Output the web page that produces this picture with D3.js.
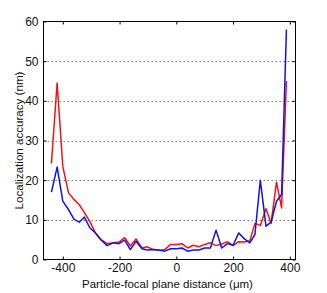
<!DOCTYPE html>
<html>
<head>
<meta charset="utf-8">
<script src="https://cdn.jsdelivr.net/npm/d3@7"></script>
<style>
html,body{margin:0;padding:0;background:#fff;}
svg{display:block;}
text{font-family:"Liberation Sans",Arial,sans-serif;fill:#111;}
</style>
</head>
<body>
<svg id="chart" width="327" height="293"></svg>
<script>
const distance = [-440,-420,-400,-380,-360,-342,-324,-305,-285,-265,-244,-222,-202,-182,-162,-142,-121,-102,-81,-61,-41,-20,0,20,40,60,80,100,120,140,160,180,200,220,240,259,277,296,316,334,353,371,388];
const redSeries = [24.2,44.5,23.5,16.8,15.1,13.8,11.8,9.6,6.7,5.0,4.0,4.2,4.4,5.5,3.4,5.2,2.9,3.2,2.5,2.3,2.5,3.8,3.8,4.0,2.9,3.6,3.2,3.8,4.2,3.5,3.9,4.5,3.5,4.5,4.4,4.7,9.1,8.6,12.8,9.1,19.5,13.0,45];
const blueSeries = [17.0,23.3,14.7,12.6,10.1,9.4,10.7,8.0,6.7,4.9,3.5,4.2,4.0,4.9,2.5,4.6,2.7,2.4,2.5,2.4,2.1,2.7,2.7,2.9,2.1,2.4,2.4,2.9,2.9,7.4,2.9,4.0,3.6,6.7,5.2,4.2,6.3,20,8.4,9.4,14.7,16.4,58];
const xTicks = [-400,-200,0,200,400];
const yTicks = [0,10,20,30,40,50,60];
const gridValues = [10,20,30,40,50];
const xLabel = "Particle-focal plane distance (\u03bcm)";
const yLabel = "Localization accuracy (nm)";

const svg = d3.select("#chart");
const L = 43.5, R = 295.5, T = 21.5, B = 259.5;
const x = d3.scaleLinear().domain([-468, 420]).range([L, R]);
const y = d3.scaleLinear().domain([0, 60]).range([B, T]);

// grid
svg.append("g").selectAll("line").data(gridValues).enter().append("line")
  .attr("x1", L).attr("x2", R)
  .attr("y1", d => Math.round(y(d)) + 0.5).attr("y2", d => Math.round(y(d)) + 0.5)
  .attr("stroke", "#777").attr("stroke-width", 1).attr("stroke-dasharray", "1.5,2.5");

// series
const line = d3.line().x((d, i) => x(distance[i])).y(d => y(d));
svg.append("path").datum(redSeries).attr("d", line)
  .attr("fill", "none").attr("stroke", "#ee1515").attr("stroke-width", 1.5).attr("stroke-linejoin", "round");
svg.append("path").datum(blueSeries).attr("d", line)
  .attr("fill", "none").attr("stroke", "#1212e8").attr("stroke-width", 1.5).attr("stroke-linejoin", "round");

// box
svg.append("rect").attr("x", L).attr("y", T).attr("width", R - L).attr("height", B - T)
  .attr("fill", "none").attr("stroke", "#000").attr("stroke-width", 1);

// axes with inward ticks
const tl = 3;
const xb = svg.append("g").attr("transform", `translate(0,${B})`)
  .call(d3.axisBottom(x).tickValues(xTicks).tickSize(-tl).tickPadding(4).tickFormat(d3.format("d")));
const xt = svg.append("g").attr("transform", `translate(0,${T})`)
  .call(d3.axisTop(x).tickValues(xTicks).tickSize(-tl).tickFormat(""));
const yl = svg.append("g").attr("transform", `translate(${L},0)`)
  .call(d3.axisLeft(y).tickValues(yTicks).tickSize(-tl).tickPadding(5).tickFormat(d3.format("d")));
const yr = svg.append("g").attr("transform", `translate(${R},0)`)
  .call(d3.axisRight(y).tickValues(yTicks).tickSize(-tl).tickFormat(""));
[xb, xt, yl, yr].forEach(g => {
  g.select(".domain").remove();
  g.selectAll("line").attr("stroke", "#000");
  g.selectAll("text").attr("font-size", 12).attr("font-family", "Liberation Sans, Arial, sans-serif").attr("fill", "#111");
});
xb.selectAll("text").text(d => d < 0 ? "-" + Math.abs(d) : d);

// labels
svg.append("text").attr("x", (L + R) / 2 - 2).attr("y", 288)
  .attr("text-anchor", "middle").attr("font-size", 11.5).text(xLabel);
svg.append("text").attr("transform", `translate(23,${(T + B) / 2}) rotate(-90)`)
  .attr("text-anchor", "middle").attr("font-size", 11.6).text(yLabel);
</script>
</body>
</html>
